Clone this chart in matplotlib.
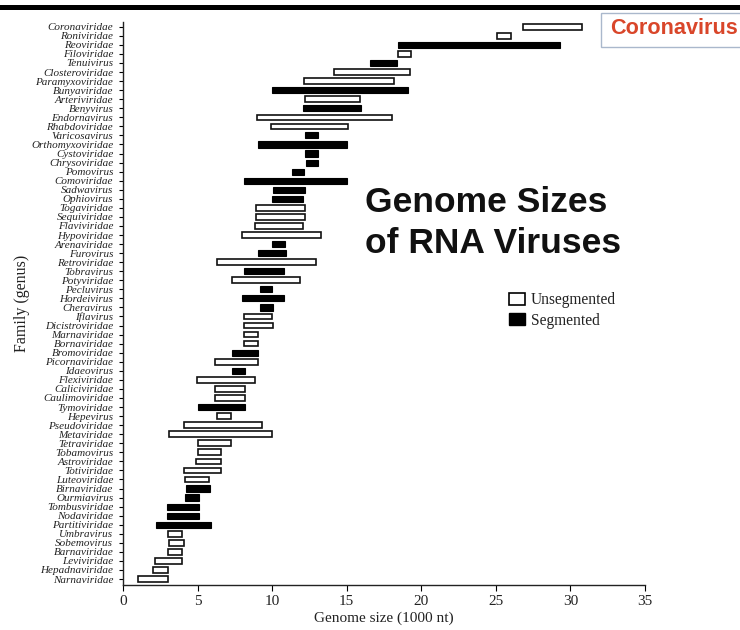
import matplotlib
matplotlib.use("Agg")
import matplotlib.pyplot as plt
from matplotlib.patches import Rectangle, Patch

families = [
    "Coronaviridae", "Roniviridae", "Reoviridae", "Filoviridae", "Tenuivirus",
    "Closteroviridae", "Paramyxoviridae", "Bunyaviridae", "Arteriviridae", "Benyvirus",
    "Endornavirus", "Rhabdoviridae", "Varicosavirus", "Orthomyxoviridae", "Cystoviridae",
    "Chrysoviridae", "Pomovirus", "Comoviridae", "Sadwavirus", "Ophiovirus",
    "Togaviridae", "Sequiviridae", "Flaviviridae", "Hypoviridae", "Arenaviridae",
    "Furovirus", "Retroviridae", "Tobravirus", "Potyviridae", "Pecluvirus",
    "Hordeivirus", "Cheravirus", "Iflavirus", "Dicistroviridae", "Marnaviridae",
    "Bornaviridae", "Bromoviridae", "Picornaviridae", "Idaeovirus", "Flexiviridae",
    "Caliciviridae", "Caulimoviridae", "Tymoviridae", "Hepevirus", "Pseudoviridae",
    "Metaviridae", "Tetraviridae", "Tobamovirus", "Astroviridae", "Totiviridae",
    "Luteoviridae", "Birnaviridae", "Ourmiavirus", "Tombusviridae", "Nodaviridae",
    "Partitiviridae", "Umbravirus", "Sobemovirus", "Barnaviridae", "Leviviridae",
    "Hepadnaviridae", "Narnaviridae",
]

size_min = [
    26.85, 25.1, 18.44, 18.44, 16.56,
    14.15, 12.12, 9.98, 12.17, 12.08,
    9.0, 9.89, 12.17, 9.08, 12.17,
    12.25, 11.34, 8.1, 10.07, 9.98,
    8.93, 8.93, 8.84, 7.95, 9.98,
    9.08, 6.27, 8.1, 7.28, 9.17,
    8.01, 9.17, 8.12, 8.12, 8.12,
    8.12, 7.28, 6.16, 7.34, 4.93,
    6.2, 6.2, 5.0, 6.27, 4.1,
    3.1, 5.0, 5.0, 4.9, 4.1,
    4.17, 4.24, 4.17, 2.97, 2.97,
    2.2, 3.04, 3.1, 3.04, 2.14,
    2.03, 1.03,
]

size_max = [
    30.8, 26.0, 29.3, 19.33, 18.35,
    19.26, 18.2, 19.13, 15.9, 15.96,
    18.06, 15.09, 13.08, 15.02, 13.08,
    13.08, 12.14, 15.02, 12.17, 12.05,
    12.17, 12.17, 12.05, 13.28, 10.87,
    10.96, 12.92, 10.78, 11.85, 9.98,
    10.78, 10.04, 9.98, 10.04, 9.04,
    9.04, 9.04, 9.04, 8.21, 8.88,
    8.21, 8.21, 8.15, 7.25, 9.3,
    10.0, 7.25, 6.56, 6.56, 6.56,
    5.74, 5.8, 5.07, 5.07, 5.07,
    5.9, 3.97, 4.08, 3.97, 3.97,
    2.99, 2.99,
]

segmented = [
    0, 0, 1, 0, 1,
    0, 0, 1, 0, 1,
    0, 0, 1, 1, 1,
    1, 1, 1, 1, 1,
    0, 0, 0, 0, 1,
    1, 0, 1, 0, 1,
    1, 1, 0, 0, 0,
    0, 1, 0, 1, 0,
    0, 0, 1, 0, 0,
    0, 0, 0, 0, 0,
    0, 1, 1, 1, 1,
    1, 0, 0, 0, 0,
    0, 0,
]

x_ticks = [0, 5, 10, 15, 20, 25, 30, 35]

serif = ["Liberation Serif", "DejaVu Serif"]
sans = ["Liberation Sans", "DejaVu Sans"]

fig = plt.figure(figsize=(7.4, 6.3), dpi=100)
ax = fig.add_axes([123 / 740, 0.0714, 522 / 740, 0.894])

ypos = list(range(len(families)))
for y, lo, hi, seg in zip(ypos, size_min, size_max, segmented):
    if seg:
        ax.barh(y, hi - lo, left=lo, height=0.68, color="black",
                edgecolor="black", linewidth=0.8)
    else:
        ax.barh(y, hi - lo, left=lo, height=0.62, color="white",
                edgecolor="#111111", linewidth=1.2)

ax.set_xlim(0, 35)
ax.set_ylim(len(families) - 1 + 0.66, -0.55)
ax.set_yticks(ypos)
ax.set_yticklabels(families, fontfamily=serif, fontstyle="italic",
                   fontsize=8.0, color="#222222")
ax.set_xticks(x_ticks)
ax.set_xticklabels([str(t) for t in x_ticks], fontfamily=serif, fontsize=11,
                   color="#222222")
ax.tick_params(axis="y", direction="out", length=3, width=0.8, pad=4)
ax.tick_params(axis="x", direction="out", length=4, width=0.8, pad=3)
for s in ["top", "right"]:
    ax.spines[s].set_visible(False)
for s in ["left", "bottom"]:
    ax.spines[s].set_linewidth(1.0)
    ax.spines[s].set_color("#222222")

ax.set_xlabel("Genome size (1000 nt)", fontfamily=serif, fontsize=11,
              color="#222222", labelpad=3)
ax.set_ylabel("Family (genus)", fontfamily=serif, fontsize=11.5,
              color="#222222", labelpad=1)

handles = [
    Patch(facecolor="white", edgecolor="black", linewidth=1.2, label="Unsegmented"),
    Patch(facecolor="black", edgecolor="black", label="Segmented"),
]
leg = ax.legend(handles=handles, loc="upper left",
                bbox_to_anchor=(0.713, 0.545), frameon=False,
                prop={"family": serif, "size": 11.2}, handlelength=1.0,
                handleheight=0.8, handletextpad=0.4, labelspacing=0.3)
for t in leg.get_texts():
    t.set_color("#222222")

fig.text(365 / 740, 1 - 223 / 630, "Genome Sizes\nof RNA Viruses",
         fontfamily=sans, fontweight="bold", fontsize=25.5, color="#111111",
         ha="left", va="center", linespacing=1.3)

# Coronavirus callout box
fig.patches.append(Rectangle((601 / 740, 1 - 47 / 630), 160 / 740, 34 / 630,
                             transform=fig.transFigure, facecolor="white",
                             edgecolor="#aab8cc", linewidth=1.0))
fig.text(610 / 740, 1 - 29 / 630, "Coronavirus", fontfamily=sans,
         fontweight="bold", fontsize=15.6, color="#d9462a", ha="left", va="center")

# top black border line
fig.patches.append(Rectangle((0, 1 - 10 / 630), 1, 5 / 630,
                             transform=fig.transFigure, facecolor="black",
                             edgecolor="none"))

fig.savefig("out.png", dpi=100)
